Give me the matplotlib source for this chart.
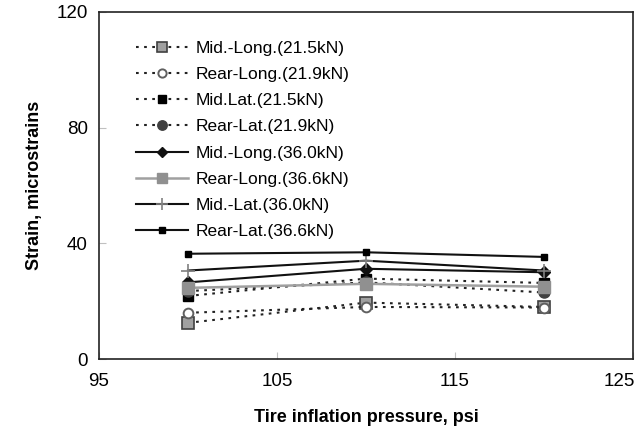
import matplotlib
matplotlib.use("Agg")
import matplotlib.pyplot as plt
from matplotlib.transforms import ScaledTranslation

plt.rcParams['font.family'] = ['Liberation Sans', 'DejaVu Sans']

pressure = [100, 110, 120]

mid_long_215 = [12.5, 19.5, 18.0]
rear_long_219 = [16.0, 18.0, 17.8]
mid_lat_215 = [21.8, 27.8, 26.3]
rear_lat_219 = [23.5, 26.5, 23.0]
mid_long_360 = [26.5, 31.2, 30.0]
rear_long_366 = [24.6, 26.0, 25.0]
mid_lat_360 = [30.6, 34.0, 30.6]
rear_lat_366 = [36.4, 36.9, 35.3]

labels = [
    "Mid.-Long.(21.5kN)",
    "Rear-Long.(21.9kN)",
    "Mid.Lat.(21.5kN)",
    "Rear-Lat.(21.9kN)",
    "Mid.-Long.(36.0kN)",
    "Rear-Long.(36.6kN)",
    "Mid.-Lat.(36.0kN)",
    "Rear-Lat.(36.6kN)",
]

x_ticks = [95, 105, 115, 125]
y_ticks = [0, 40, 80, 120]

fig = plt.figure(figsize=(6.39, 4.34), dpi=100)
ax = fig.add_axes([99 / 639, 1 - 359 / 434, (633 - 99) / 639, (359 - 12) / 434])

dot = dict(linestyle=(0, (1.3, 2.6)), linewidth=1.5, color='#222222')
ax.plot(pressure, mid_long_215, marker='s', markersize=8, markerfacecolor='#a0a0a0',
        markeredgecolor='#404040', markeredgewidth=1.2, label=labels[0], **dot)
ax.plot(pressure, rear_long_219, marker='o', markersize=7, markerfacecolor='white',
        markeredgecolor='#606060', markeredgewidth=1.4, label=labels[1], **dot)
ax.plot(pressure, mid_lat_215, marker='s', markersize=7, markerfacecolor='black',
        markeredgecolor='black', label=labels[2], **dot)
ax.plot(pressure, rear_lat_219, marker='o', markersize=8, markerfacecolor='#404040',
        markeredgecolor='#404040', label=labels[3], **dot)

ax.plot(pressure, mid_long_360, color='#111111', linewidth=1.5, marker='D', markersize=6,
        markerfacecolor='#111111', markeredgecolor='#111111', label=labels[4])
ax.plot(pressure, rear_long_366, color='#a0a0a0', linewidth=1.8, marker='s', markersize=8,
        markerfacecolor='#909090', markeredgecolor='#909090', label=labels[5])
ax.plot(pressure, mid_lat_360, color='#111111', linewidth=1.5, marker='+', markersize=10,
        markeredgecolor='#808080', markeredgewidth=1.2, label=labels[6])
ax.plot(pressure, rear_lat_366, color='#111111', linewidth=1.5, marker='s', markersize=5,
        markerfacecolor='black', markeredgecolor='black', label=labels[7])

ax.set_xlim(95, 125)
ax.set_ylim(0, 120)
ax.set_xticks(x_ticks)
ax.set_yticks(y_ticks)
ax.tick_params(direction='in', length=5, color='#c0c0c0', labelsize=13.5)
ax.tick_params(axis='x', pad=10)
ax.tick_params(axis='y', pad=8)
for s in ax.spines.values():
    s.set_linewidth(1.2)
    s.set_color('#222222')

# keep the last x label inside the figure
last = ax.get_xticklabels()[-1]
last.set_transform(last.get_transform() + ScaledTranslation(-0.14, 0, fig.dpi_scale_trans))

ax.set_xlabel("Tire inflation pressure, psi", fontsize=13, fontweight='bold', labelpad=14)
ax.set_ylabel("Strain, microstrains", fontsize=13, fontweight='bold', labelpad=10)

ax.legend(loc='upper left', bbox_to_anchor=(0.049, 0.948), frameon=False, fontsize=12.5,
          handlelength=3.0, labelspacing=0.64, handletextpad=0.45, borderaxespad=0.2,
          markerscale=0.85)

fig.savefig("out.png", dpi=100)
